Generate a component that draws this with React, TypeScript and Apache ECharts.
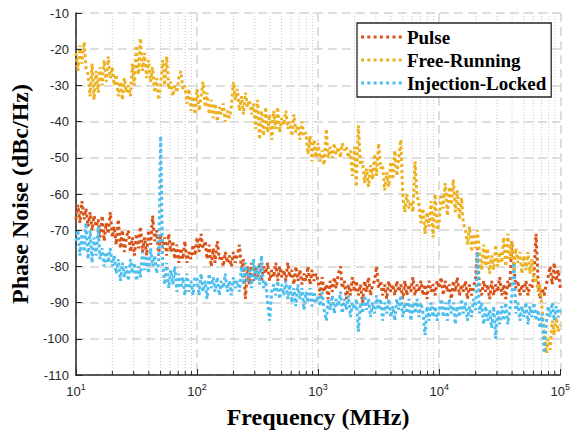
import React, { useEffect, useRef } from "react";
import * as echarts from "echarts";

// frequency grid: decade starts x mantissas (60 per decade), last point 1e5
const decadeStarts = [10, 100, 1000, 10000];
const mantissas = [
  1, 1.04, 1.08, 1.12, 1.17, 1.21, 1.26, 1.31, 1.36, 1.41, 1.47, 1.53, 1.58, 1.65, 1.71, 1.78, 1.85, 1.92, 2.0, 2.07,
  2.15, 2.24, 2.33, 2.42, 2.51, 2.61, 2.71, 2.82, 2.93, 3.04, 3.16, 3.29, 3.41, 3.55, 3.69, 3.83, 3.98, 4.14, 4.3, 4.47,
  4.64, 4.82, 5.01, 5.21, 5.41, 5.62, 5.84, 6.07, 6.31, 6.56, 6.81, 7.08, 7.36, 7.64, 7.94, 8.25, 8.58, 8.91, 9.26, 9.62,
];
const lastFrequency = 100000;

const pulse = [
  // 10 - 100 MHz
  -67, -63, -68, -62, -67, -64, -69, -65, -70, -66, -69, -67, -72, -66, -73, -68, -71, -65, -72, -69,
  -74, -67, -75, -70, -76, -72, -70, -76, -72, -77, -71, -75, -69, -76, -72, -77, -70, -74, -66, -73,
  -70, -77, -71, -75, -72, -77, -71, -76, -73, -78, -74, -79, -75, -78, -73, -79, -76, -78, -74, -77,
  // 100 - 1000 MHz
  -72, -76, -71, -75, -73, -78, -74, -80, -75, -79, -73, -78, -77, -80, -76, -79, -77, -80, -76, -79,
  -77, -74, -81, -78, -89, -80, -85, -79, -84, -80, -83, -79, -84, -80, -82, -79, -84, -81, -83, -79,
  -84, -80, -83, -81, -84, -79, -83, -81, -85, -80, -84, -81, -85, -82, -84, -80, -85, -81, -84, -82,
  // 1e3 - 1e4 MHz
  -84, -88, -83, -87, -85, -89, -84, -87, -83, -86, -82, -80, -86, -84, -89, -85, -88, -83, -87, -84,
  -88, -85, -90, -84, -87, -83, -88, -85, -84, -80, -86, -84, -88, -85, -89, -84, -87, -85, -88, -84,
  -87, -85, -89, -84, -88, -85, -87, -83, -88, -85, -87, -84, -88, -85, -89, -84, -87, -85, -88, -84,
  // 1e4 - 1e5 MHz
  -86, -83, -88, -84, -87, -85, -89, -84, -87, -83, -88, -85, -87, -84, -89, -85, -88, -86, -83, -75,
  -86, -88, -84, -87, -85, -89, -84, -88, -85, -87, -83, -88, -85, -89, -84, -86, -73, -80, -86, -84,
  -88, -85, -87, -84, -88, -85, -86, -82, -71, -84, -89, -86, -88, -85, -83, -80, -85, -79, -84, -81,
  -86,
];

const freeRunning = [
  // 10 - 100 MHz
  -21, -26, -19, -24, -18, -25, -27, -33, -24, -34, -26, -32, -25, -30, -23, -29, -22, -28, -25, -30,
  -27, -33, -29, -34, -28, -32, -30, -33, -24, -30, -19, -27, -17, -26, -21, -28, -23, -29, -25, -32,
  -28, -34, -30, -23, -30, -22, -31, -29, -33, -30, -32, -28, -26, -31, -30, -35, -31, -37, -33, -38,
  // 100 - 1000 MHz
  -31, -37, -33, -29, -36, -32, -38, -34, -39, -35, -40, -36, -38, -35, -40, -37, -39, -36, -29, -34,
  -31, -37, -33, -38, -32, -36, -34, -38, -35, -42, -34, -45, -37, -44, -36, -43, -38, -45, -37, -42,
  -36, -43, -39, -41, -37, -42, -40, -44, -38, -43, -41, -45, -40, -44, -43, -49, -44, -51, -45, -50,
  // 1e3 - 1e4 MHz
  -46, -51, -48, -52, -42, -50, -47, -50, -46, -49, -47, -50, -46, -48, -47, -50, -48, -55, -47, -58,
  -41, -52, -51, -57, -53, -58, -52, -56, -49, -55, -46, -53, -52, -59, -54, -58, -51, -56, -48, -55,
  -50, -45, -61, -65, -60, -64, -62, -65, -51, -60, -63, -68, -64, -71, -65, -69, -62, -72, -60, -70,
  // 1e4 - 1e5 MHz
  -68, -60, -64, -57, -66, -58, -63, -56, -65, -59, -67, -61, -68, -70, -74, -69, -76, -71, -75, -70,
  -76, -81, -74, -80, -75, -82, -77, -81, -74, -80, -76, -79, -72, -80, -71, -78, -73, -81, -75, -79,
  -76, -82, -77, -81, -76, -82, -78, -84, -83, -87, -85, -92, -98, -104, -100, -103, -95, -99, -94, -98,
  -96,
];

const injectionLocked = [
  // 10 - 100 MHz
  -73, -70, -77, -71, -76, -68, -78, -70, -79, -72, -77, -69, -78, -75, -80, -76, -79, -75, -80, -77,
  -82, -78, -84, -79, -83, -80, -84, -78, -82, -79, -84, -80, -83, -76, -81, -77, -82, -75, -80, -77,
  -82, -79, -44, -80, -85, -79, -86, -81, -85, -80, -87, -82, -86, -83, -88, -82, -87, -84, -88, -83,
  // 100 - 1000 MHz
  -83, -88, -82, -87, -84, -89, -82, -86, -83, -87, -83, -88, -84, -86, -82, -87, -84, -88, -83, -86,
  -84, -87, -80, -85, -79, -84, -81, -86, -78, -84, -80, -85, -77, -86, -84, -90, -95, -87, -85, -88,
  -84, -89, -85, -88, -84, -89, -85, -90, -86, -91, -85, -89, -86, -92, -87, -90, -86, -91, -87, -90,
  // 1e3 - 1e4 MHz
  -88, -91, -87, -92, -95, -89, -92, -88, -93, -89, -91, -87, -93, -89, -92, -88, -94, -90, -92, -89,
  -98, -90, -93, -88, -92, -89, -94, -90, -93, -88, -92, -89, -95, -90, -93, -89, -94, -91, -95, -89,
  -92, -88, -94, -90, -93, -89, -95, -90, -93, -89, -94, -90, -93, -99, -91, -95, -90, -94, -91, -95,
  // 1e4 - 1e5 MHz
  -92, -89, -94, -90, -95, -89, -93, -90, -96, -91, -94, -89, -93, -90, -95, -91, -94, -89, -92, -76,
  -93, -90, -96, -91, -95, -92, -97, -91, -100, -92, -96, -91, -95, -90, -96, -92, -88, -79, -93, -90,
  -95, -91, -94, -90, -96, -91, -94, -90, -95, -92, -97, -93, -104, -96, -91, -94, -90, -95, -91, -94,
  -92,
];

const seriesNames = ["Pulse", "Free-Running", "Injection-Locked"];
const seriesColors = ["#D95319", "#EDB120", "#4DBEEE"];
const minorMultipliers = [2, 3, 4, 5, 6, 7, 8, 9];
const yMin = -110;
const yMax = -10;
const yInterval = 10;
const xMin = 10;
const xMax = 100000;

const serif = '"Liberation Serif", "Times New Roman", Times, serif';
const sans = '"Liberation Sans", Arial, Helvetica, sans-serif';
const dottedIcon =
  "path://M0 0h3v3h-3zM6.3 0h3v3h-3zM12.6 0h3v3h-3zM18.9 0h3v3h-3zM25.2 0h3v3h-3zM31.5 0h3v3h-3zM37.8 0h3v3h-3z";

export default function App() {
  const ref = useRef<HTMLDivElement>(null);

  useEffect(() => {
    if (!ref.current) return;
    const chart = echarts.init(ref.current, null, { renderer: "svg" });

    const frequencies: number[] = [];
    decadeStarts.forEach((d) => mantissas.forEach((m) => frequencies.push(d * m)));
    frequencies.push(lastFrequency);

    const minorValues: number[] = [];
    decadeStarts.forEach((d) => minorMultipliers.forEach((m) => minorValues.push(d * m)));

    const values = [pulse, freeRunning, injectionLocked];
    const lineSeries = seriesNames.map((name, i) => ({
      name,
      type: "line",
      data: frequencies.map((f, j) => [f, values[i][j]]),
      symbol: "none",
      showSymbol: false,
      silent: true,
      z: 3 + i,
      itemStyle: { color: seriesColors[i] },
      lineStyle: { color: seriesColors[i], width: 3, type: [3, 3], cap: "butt" },
    }));

    const option: any = {
      animation: false,
      grid: { left: 71, right: 10, top: 13, bottom: 61 },
      legend: {
        orient: "vertical",
        left: 357,
        top: 23,
        data: seriesNames.map((n) => ({ name: n, icon: dottedIcon })),
        selectedMode: false,
        backgroundColor: "#fff",
        borderColor: "#262626",
        borderWidth: 1.3,
        borderRadius: 0,
        padding: [4, 5, 4, 4],
        itemWidth: 41,
        itemHeight: 3,
        itemGap: 3,
        textStyle: { fontFamily: serif, fontWeight: "bold", fontSize: 19, color: "#000", lineHeight: 20 },
      },
      xAxis: {
        type: "log",
        logBase: 10,
        min: xMin,
        max: xMax,
        axisLine: { show: true, onZero: false, lineStyle: { color: "#262626", width: 1.5 } },
        axisTick: { show: true, inside: true, length: 6, lineStyle: { color: "#262626", width: 1 } },
        axisLabel: {
          margin: 7,
          color: "#262626",
          formatter: (v: number) => `{b|10}{s|${Math.round(Math.log10(v))}}`,
          rich: {
            b: { fontSize: 13, fontFamily: sans, color: "#262626", lineHeight: 18 },
            s: { fontSize: 9, fontFamily: sans, color: "#262626", verticalAlign: "top", lineHeight: 10 },
          },
        },
        splitLine: { show: true, lineStyle: { color: "#d4d4d4", width: 1.5, type: [9, 5] } },
        name: "Frequency (MHz)",
        nameLocation: "middle",
        nameGap: 30,
        nameTextStyle: { fontFamily: serif, fontWeight: "bold", fontSize: 24, color: "#000", verticalAlign: "top" },
      },
      yAxis: {
        type: "value",
        min: yMin,
        max: yMax,
        interval: yInterval,
        axisLine: { show: true, onZero: false, lineStyle: { color: "#262626", width: 1.5 } },
        axisTick: { show: true, inside: true, length: 6, lineStyle: { color: "#262626", width: 1 } },
        axisLabel: { margin: 7, fontSize: 13, fontFamily: sans, color: "#262626" },
        splitLine: { show: true, lineStyle: { color: "#d4d4d4", width: 1.5, type: [9, 5] } },
        name: "Phase Noise (dBc/Hz)",
        nameLocation: "middle",
        nameGap: 33,
        nameTextStyle: { fontFamily: serif, fontWeight: "bold", fontSize: 24, color: "#000" },
      },
      series: [
        {
          type: "custom",
          name: "minor",
          silent: true,
          z: 1,
          data: minorValues.map((v) => [v, yMin]),
          renderItem: (_params: any, api: any) => {
            const x = api.value(0);
            const b = api.coord([x, yMin]);
            const t = api.coord([x, yMax]);
            return {
              type: "group",
              children: [
                {
                  type: "line",
                  shape: { x1: b[0], y1: t[1], x2: b[0], y2: b[1] },
                  style: { stroke: "#c8c8c8", lineWidth: 1, lineDash: [1, 2] },
                },
                {
                  type: "line",
                  shape: { x1: b[0], y1: b[1], x2: b[0], y2: b[1] - 4 },
                  style: { stroke: "#262626", lineWidth: 1 },
                },
              ],
            };
          },
        },
        ...lineSeries,
      ],
    };

    chart.setOption(option);
    return () => chart.dispose();
  }, []);

  return <div ref={ref} style={{ position: "fixed", left: 0, top: 0, width: 573, height: 436, background: "#fff" }} />;
}
